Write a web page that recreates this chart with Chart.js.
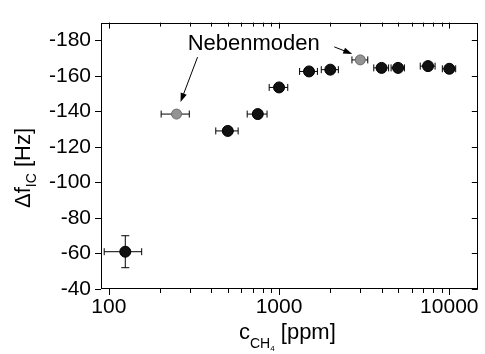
<!DOCTYPE html>
<html>
<head>
<meta charset="utf-8">
<script src="https://cdn.jsdelivr.net/npm/chart.js@4.4.1/dist/chart.umd.min.js"></script>
<style>
  html, body { margin: 0; padding: 0; background: #fff; }
  #wrap { width: 485px; height: 354px; }
</style>
</head>
<body>
<div id="wrap"><canvas id="myChart" width="485" height="354"></canvas></div>
<script>
// main mode: CH4 concentration [ppm] vs. frequency shift [Hz]
const conc  = [125, 500, 750, 1000, 1500, 2000, 4000, 5000, 7500, 10000];
const shift = [-61, -129, -138.5, -153.5, -162.5, -163.5, -164.5, -164.5, -165.5, -164];
const concErr  = [31, 75, 100, 125, 180, 230, 400, 450, 750, 900];
const shiftErr = [9, 1.5, 1.5, 1.5, 1.5, 1.5, 1.5, 1.5, 1.5, 1.5];

// side modes (Nebenmoden)
const sideConc  = [250, 3000];
const sideShift = [-138.5, -169];
const sideConcErr  = [47, 320];
const sideShiftErr = [1.5, 1.5];

const xLabels = [100, 1000, 10000];
const yLabels = [-180, -160, -140, -120, -100, -80, -60, -40];
const annotText = 'Nebenmoden';

const FONT = '"Liberation Sans", Arial, sans-serif';

function toPoints(xs, ys, xe, ye) {
  return xs.map((x, i) => ({ x: x, y: ys[i], xErr: xe[i], yErr: ye[i] }));
}

function arrow(ctx, x1, y1, x2, y2) {
  const a = Math.atan2(y2 - y1, x2 - x1);
  const len = 9, w = 3.2;
  ctx.beginPath();
  ctx.moveTo(x1, y1);
  ctx.lineTo(x2 - Math.cos(a) * len * 0.8, y2 - Math.sin(a) * len * 0.8);
  ctx.stroke();
  ctx.beginPath();
  ctx.moveTo(x2, y2);
  ctx.lineTo(x2 - Math.cos(a) * len - Math.sin(a) * w, y2 - Math.sin(a) * len + Math.cos(a) * w);
  ctx.lineTo(x2 - Math.cos(a) * len + Math.sin(a) * w, y2 - Math.sin(a) * len - Math.cos(a) * w);
  ctx.closePath();
  ctx.fill();
}

const errorBars = {
  id: 'errorBars',
  beforeDatasetsDraw(chart) {
    const ctx = chart.ctx;
    const xs = chart.scales.x, ys = chart.scales.y;
    ctx.save();
    ctx.strokeStyle = '#000';
    ctx.lineWidth = 1;
    chart.data.datasets.forEach(ds => {
      ds.data.forEach(p => {
        const px = xs.getPixelForValue(p.x);
        const py = ys.getPixelForValue(p.y);
        const xl = xs.getPixelForValue(p.x - p.xErr);
        const xr = xs.getPixelForValue(p.x + p.xErr);
        const yt = ys.getPixelForValue(p.y - p.yErr);
        const yb = ys.getPixelForValue(p.y + p.yErr);
        ctx.beginPath();
        ctx.moveTo(xl, py); ctx.lineTo(xr, py);
        ctx.moveTo(xl, py - 3.5); ctx.lineTo(xl, py + 3.5);
        ctx.moveTo(xr, py - 3.5); ctx.lineTo(xr, py + 3.5);
        ctx.moveTo(px, yt); ctx.lineTo(px, yb);
        ctx.moveTo(px - 4, yt); ctx.lineTo(px + 4, yt);
        ctx.moveTo(px - 4, yb); ctx.lineTo(px + 4, yb);
        ctx.stroke();
      });
    });
    ctx.restore();
  }
};

const frame = {
  id: 'frame',
  afterDraw(chart) {
    const ctx = chart.ctx;
    const a = chart.chartArea;
    const xs = chart.scales.x, ys = chart.scales.y;
    ctx.save();
    ctx.strokeStyle = '#000';
    ctx.fillStyle = '#000';
    ctx.lineWidth = 1;
    ctx.strokeRect(Math.round(a.left) + 0.5, Math.round(a.top) + 0.5,
      Math.round(a.right - a.left) - 1, Math.round(a.bottom - a.top) - 1);

    // ticks: outward on bottom/left, inward on top/right
    ctx.beginPath();
    xs.ticks.forEach(t => {
      const px = Math.round(xs.getPixelForValue(t.value)) + 0.5;
      const major = xLabels.indexOf(t.value) >= 0;
      const L = major ? 6 : 4;
      ctx.moveTo(px, a.bottom); ctx.lineTo(px, a.bottom + L);
      ctx.moveTo(px, a.top); ctx.lineTo(px, a.top + L);
    });
    ys.ticks.forEach(t => {
      const py = Math.round(ys.getPixelForValue(t.value)) + 0.5;
      const major = t.value % 20 === 0;
      const L = major ? 6 : 4;
      ctx.moveTo(a.left, py); ctx.lineTo(a.left - L, py);
      ctx.moveTo(a.right, py); ctx.lineTo(a.right - L, py);
    });
    ctx.stroke();

    // annotation
    ctx.font = '22px ' + FONT;
    ctx.textAlign = 'center';
    ctx.textBaseline = 'alphabetic';
    const tx = xs.getPixelForValue(710);
    const ty = ys.getPixelForValue(-174.5);
    ctx.fillText(annotText, tx, ty);
    const g1x = xs.getPixelForValue(sideConc[0]), g1y = ys.getPixelForValue(sideShift[0]);
    const g2x = xs.getPixelForValue(sideConc[1]), g2y = ys.getPixelForValue(sideShift[1]);
    arrow(ctx, g1x + 21, ty + 7, g1x + 4, g1y - 12);
    arrow(ctx, g2x - 26, g2y - 13, g2x - 8, g2y - 6);

    // axis titles with subscripts
    ctx.textAlign = 'left';
    const cx = (a.left + a.right) / 2;
    ctx.font = '22px ' + FONT;
    const wc = ctx.measureText('c').width;
    ctx.font = '14px ' + FONT;
    const wch = ctx.measureText('CH').width;
    ctx.font = '8px ' + FONT;
    const w4 = ctx.measureText('4').width;
    ctx.font = '22px ' + FONT;
    const wp = ctx.measureText(' [ppm]').width;
    let x0 = cx - (wc + wch + w4 + wp) / 2 - 2;
    const by = 339;
    ctx.fillText('c', x0, by);
    ctx.font = '14px ' + FONT;
    ctx.fillText('CH', x0 + wc, by + 9);
    ctx.font = '8px ' + FONT;
    ctx.fillText('4', x0 + wc + wch, by + 12);
    ctx.font = '22px ' + FONT;
    ctx.fillText(' [ppm]', x0 + wc + wch + w4, by);

    ctx.translate(30, 168);
    ctx.rotate(-Math.PI / 2);
    ctx.font = '22px ' + FONT;
    const wd = ctx.measureText('\u0394f').width;
    ctx.font = '14px ' + FONT;
    const wic = ctx.measureText('IC').width;
    ctx.font = '22px ' + FONT;
    const wh = ctx.measureText(' [Hz]').width;
    const y0 = -(wd + wic + wh) / 2;
    ctx.fillText('\u0394f', y0, 0);
    ctx.font = '14px ' + FONT;
    ctx.fillText('IC', y0 + wd, 6);
    ctx.font = '22px ' + FONT;
    ctx.fillText(' [Hz]', y0 + wd + wic, 0);
    ctx.restore();
  }
};

const ctx = document.getElementById('myChart').getContext('2d');

new Chart(ctx, {
  type: 'scatter',
  data: {
    datasets: [{
      label: 'Hauptmode',
      data: toPoints(conc, shift, concErr, shiftErr),
      pointRadius: 5.5,
      pointHoverRadius: 5.5,
      pointBackgroundColor: '#111',
      pointBorderColor: '#000',
      pointBorderWidth: 1
    }, {
      label: 'Nebenmoden',
      data: toPoints(sideConc, sideShift, sideConcErr, sideShiftErr),
      pointRadius: 5,
      pointHoverRadius: 5,
      pointBackgroundColor: '#939393',
      pointBorderColor: '#6a6a6a',
      pointBorderWidth: 1
    }]
  },
  options: {
    responsive: false,
    animation: false,
    layout: { padding: { top: 7, right: 3, left: 0, bottom: 0 } },
    plugins: {
      legend: { display: false },
      tooltip: { enabled: false }
    },
    scales: {
      x: {
        type: 'logarithmic',
        min: 90,
        max: 14700,
        afterFit: function(scale) { scale.height = 65; },
        afterBuildTicks: function(scale) {
          const t = [];
          for (let d = 100; d <= 10000; d *= 10) {
            for (let m = 1; m <= 9; m++) {
              if (d * m <= scale.max) t.push({ value: d * m });
            }
          }
          scale.ticks = t;
        },
        grid: { display: false, drawTicks: false },
        border: { display: false },
        ticks: {
          autoSkip: false,
          maxRotation: 0,
          padding: 6,
          color: '#000',
          font: { family: FONT, size: 21 },
          callback: function(v) { return xLabels.indexOf(v) >= 0 ? String(v) : ''; }
        }
      },
      y: {
        type: 'linear',
        reverse: true,
        min: -190,
        max: -40,
        afterFit: function(scale) { scale.width = 101; },
        grid: { display: false, drawTicks: false },
        border: { display: false },
        ticks: {
          stepSize: 10,
          padding: 10,
          color: '#000',
          font: { family: FONT, size: 21 },
          callback: function(v) { return yLabels.indexOf(v) >= 0 ? String(v) : ''; }
        }
      }
    }
  },
  plugins: [errorBars, frame]
});
</script>
</body>
</html>
